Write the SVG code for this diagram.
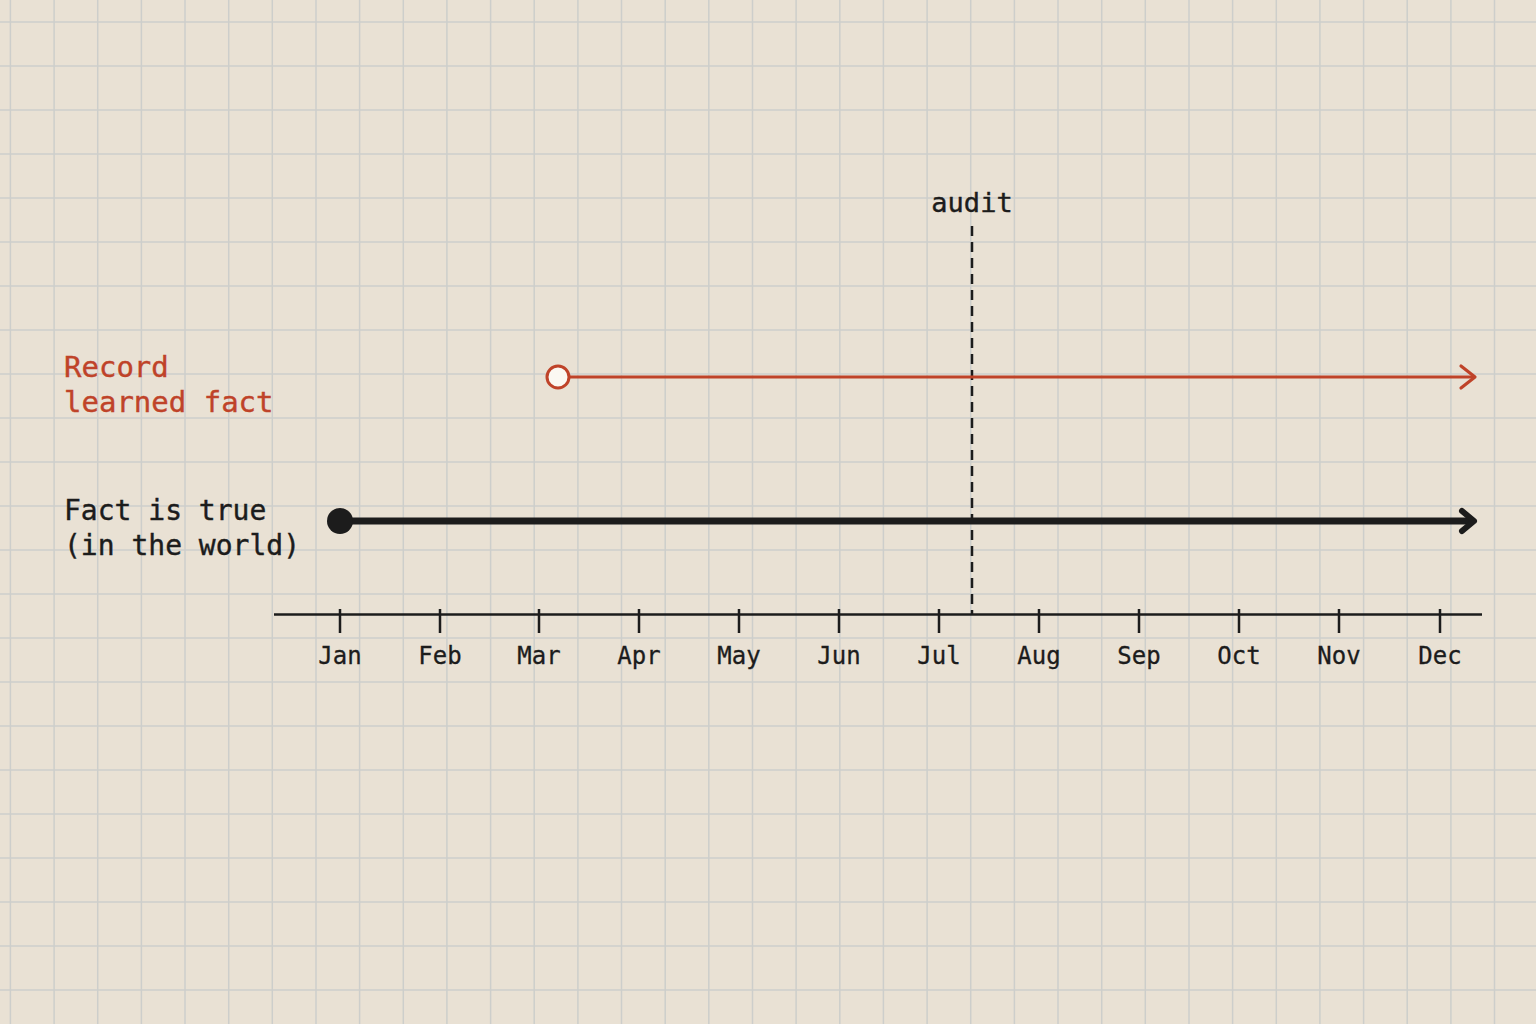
<svg xmlns="http://www.w3.org/2000/svg" width="1536" height="1024" viewBox="0 0 1536 1024">
<style>
.grid{stroke:#cdcecb;stroke-width:1.5;fill:none}
.mono{font-family:"DejaVu Sans Mono","Liberation Mono",monospace}
.lbl{font-size:29px}
.red{fill:#bf4329;stroke:#bf4329;stroke-width:0.4}
.blk{fill:#1c1c1c;stroke:#1c1c1c;stroke-width:0.4}
.month{font-size:24px;fill:#1c1c1c;text-anchor:middle;stroke:#1c1c1c;stroke-width:0.3}
.axis{stroke:#1c1c1c;stroke-width:2.5;fill:none}
</style>
<rect width="1536" height="1024" fill="#e9e1d4"/>
<g id="grid">
<path class="grid" d="M10.4 0V1024M54.1 0V1024M97.7 0V1024M141.4 0V1024M185 0V1024M228.7 0V1024M272.3 0V1024M316 0V1024M359.6 0V1024M403.3 0V1024M446.9 0V1024M490.6 0V1024M534.2 0V1024M577.9 0V1024M621.5 0V1024M665.2 0V1024M708.8 0V1024M752.5 0V1024M796.1 0V1024M839.8 0V1024M883.4 0V1024M927.1 0V1024M970.7 0V1024M1014.4 0V1024M1058 0V1024M1101.7 0V1024M1145.3 0V1024M1189 0V1024M1232.6 0V1024M1276.3 0V1024M1319.9 0V1024M1363.6 0V1024M1407.2 0V1024M1450.9 0V1024M1494.5 0V1024"/>
<path class="grid" d="M0 22H1536M0 66H1536M0 110H1536M0 154H1536M0 198H1536M0 242H1536M0 286H1536M0 330H1536M0 374H1536M0 418H1536M0 462H1536M0 506H1536M0 550H1536M0 594H1536M0 638H1536M0 682H1536M0 726H1536M0 770H1536M0 814H1536M0 858H1536M0 902H1536M0 946H1536M0 990H1536"/>
</g>
<g id="axis">
<path class="axis" d="M274 614.5H1482"/>
<path class="axis" d="M340 609V633M440 609V633M539 609V633M639 609V633M739 609V633M839 609V633M939 609V633M1039 609V633M1139 609V633M1239 609V633M1339 609V633M1440 609V633"/>
<g class="mono month">
<text x="340" y="664">Jan</text>
<text x="440" y="664">Feb</text>
<text x="539" y="664">Mar</text>
<text x="639" y="664">Apr</text>
<text x="739" y="664">May</text>
<text x="839" y="664">Jun</text>
<text x="939" y="664">Jul</text>
<text x="1039" y="664">Aug</text>
<text x="1139" y="664">Sep</text>
<text x="1239" y="664">Oct</text>
<text x="1339" y="664">Nov</text>
<text x="1440" y="664">Dec</text>
</g>
</g>
<g id="labels">
<text class="mono lbl red" x="64" y="377">Record</text>
<text class="mono lbl red" x="64" y="412">learned fact</text>
<text class="mono blk" font-size="28" x="64" y="520">Fact is true</text>
<text class="mono blk" font-size="28" x="64" y="555">(in the world)</text>
</g>
<g id="audit">
<text class="mono blk" x="972" y="212" font-size="27" text-anchor="middle">audit</text>
</g>
<g id="connectors">
<line x1="972" y1="226" x2="972" y2="614" stroke="#1c1c1c" stroke-width="2.5" stroke-dasharray="10 6"/>
<line x1="569" y1="377" x2="1474" y2="377" stroke="#bf4329" stroke-width="3"/>
<path d="M1461 366L1475 377L1461 388" fill="none" stroke="#bf4329" stroke-width="3.2" stroke-linecap="round" stroke-linejoin="round"/>
<line x1="340" y1="521" x2="1472" y2="521" stroke="#1c1c1c" stroke-width="7"/>
<path d="M1462 511L1474 521L1462 531" fill="none" stroke="#1c1c1c" stroke-width="6" stroke-linecap="round" stroke-linejoin="round"/>
</g>
<g id="start-record">
<circle cx="558" cy="377" r="11" fill="#fbf8f2" stroke="#bf4329" stroke-width="3"/>
</g>
<g id="start-fact">
<circle cx="340" cy="521" r="13" fill="#1c1c1c"/>
</g>
</svg>
